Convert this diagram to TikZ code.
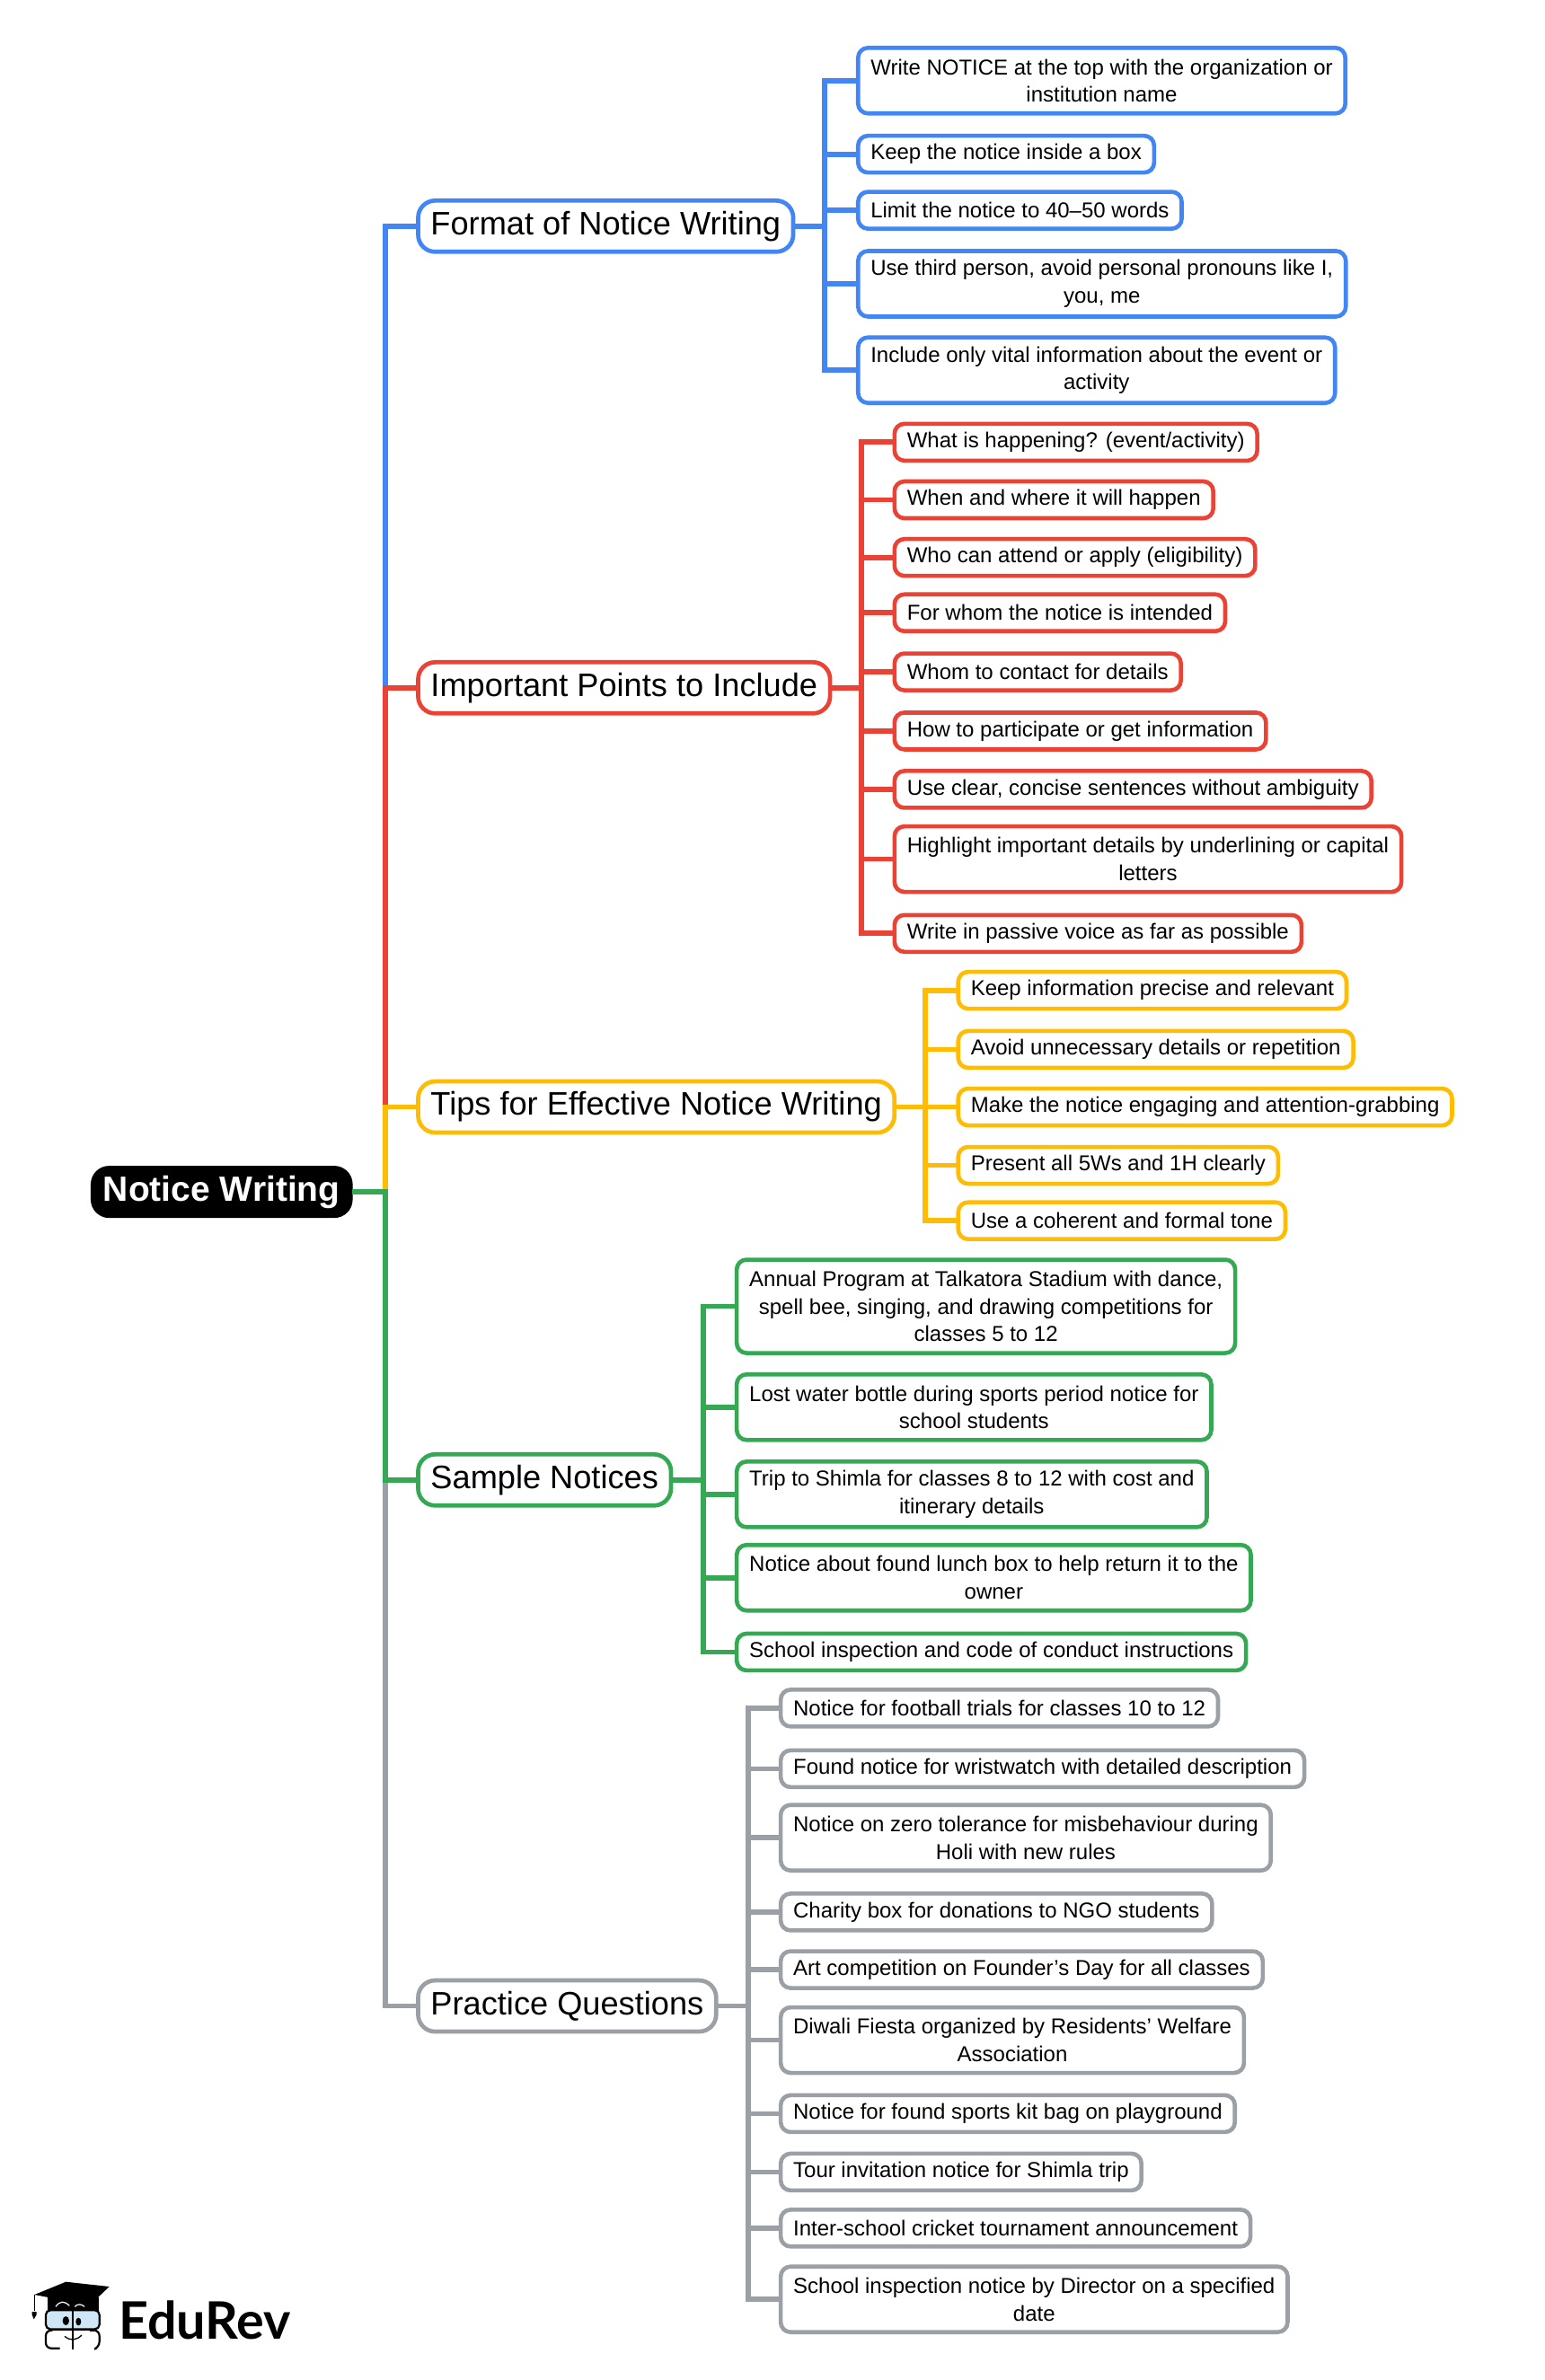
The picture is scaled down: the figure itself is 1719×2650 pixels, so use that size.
\documentclass[tikz,border=0pt]{standalone}
\usepackage{fontspec}
\setmainfont{Liberation Sans}
\newfontfamily\logofont{Lato}
\definecolor{cblue}{HTML}{4285F4}
\definecolor{cred}{HTML}{EA4335}
\definecolor{cyel}{HTML}{FFBC05}
\definecolor{cgrn}{HTML}{34A853}
\definecolor{cgry}{HTML}{9AA0A6}
\definecolor{cglass}{HTML}{CFE6F6}
\tikzset{
  rootbox/.style={draw=black,fill=black,text=white,rounded corners=20pt,inner xsep=13.5pt,inner ysep=0pt,minimum height=57pt,anchor=west,outer sep=0pt,line width=1pt,font=\fontsize{39}{44}\selectfont\bfseries},
  topbox/.style={draw=#1,fill=white,text=black,rounded corners=19pt,line width=4.7pt,inner xsep=14pt,inner ysep=0pt,minimum height=57pt,anchor=west,outer sep=0pt,font=\fontsize{36.2}{44}\selectfont},
  leaf/.style={draw=#1,fill=white,text=black,rounded corners=11pt,line width=4.6pt,inner xsep=14pt,inner ysep=0pt,minimum height=41pt,anchor=west,outer sep=0pt,align=center,font=\fontsize{24}{30.6}\selectfont},
  two/.style={minimum height=73pt},
  three/.style={minimum height=104pt},
  link/.style={draw=#1,line width=5.8pt,line join=miter,line cap=butt},
}
\begin{document}
\begin{tikzpicture}[x=1.689pt,y=-1.688pt,shift={(1pt,-3.7pt)}]
\useasboundingbox (-1pt,3.7pt) rectangle (1718pt,-2646.3pt);
\fill[white] (-1pt,3.7pt) rectangle (1718pt,-2646.3pt);
% root and main branches
\node[rootbox] (root) at (59.5,784) {Notice Writing};
\node[topbox=cblue] (fmt) at (275,147) {Format of Notice Writing};
\node[topbox=cred] (imp) at (275,451.5) {Important Points to Include};
\node[topbox=cyel] (tip) at (275,728) {Tips for Effective Notice Writing};
\node[topbox=cgrn] (smp) at (275,974) {Sample Notices};
\node[topbox=cgry] (prq) at (275,1321) {Practice Questions};
% format
\node[leaf=cblue,two] (f1) at (565,51) {Write NOTICE at the top with the organization or\\institution name};
\node[leaf=cblue] (f2) at (565,99.5) {Keep the notice inside a box};
\node[leaf=cblue] (f3) at (565,136.5) {Limit the notice to 40–50 words};
\node[leaf=cblue,two] (f4) at (565,185) {Use third person, avoid personal pronouns like I,\\you, me};
\node[leaf=cblue,two] (f5) at (565,242) {Include only vital information about the event or\\activity};
% important
\node[leaf=cred] (i1) at (589,289.5) {What is happening? (event/activity)};
\node[leaf=cred] (i2) at (589,327.5) {When and where it will happen};
\node[leaf=cred] (i3) at (589,365.5) {Who can attend or apply (eligibility)};
\node[leaf=cred] (i4) at (589,402) {For whom the notice is intended};
\node[leaf=cred] (i5) at (589,441) {Whom to contact for details};
\node[leaf=cred] (i6) at (589,480) {How to participate or get information};
\node[leaf=cred] (i7) at (589,518.5) {Use clear, concise sentences without ambiguity};
\node[leaf=cred,two] (i8) at (589,564.5) {Highlight important details by underlining or capital\\letters};
\node[leaf=cred] (i9) at (589,613.5) {Write in passive voice as far as possible};
% tips
\node[leaf=cyel] (t1) at (631,651) {Keep information precise and relevant};
\node[leaf=cyel] (t2) at (631,690) {Avoid unnecessary details or repetition};
\node[leaf=cyel] (t3) at (631,728) {Make the notice engaging and attention-grabbing};
\node[leaf=cyel] (t4) at (631,766.5) {Present all 5Ws and 1H clearly};
\node[leaf=cyel] (t5) at (631,803) {Use a coherent and formal tone};
% samples
\node[leaf=cgrn,three] (s1) at (485,859.5) {Annual Program at Talkatora Stadium with dance,\\spell bee, singing, and drawing competitions for\\classes 5 to 12};
\node[leaf=cgrn,two] (s2) at (485,926) {Lost water bottle during sports period notice for\\school students};
\node[leaf=cgrn,two] (s3) at (485,983.5) {Trip to Shimla for classes 8 to 12 with cost and\\itinerary details};
\node[leaf=cgrn,two] (s4) at (485,1038.5) {Notice about found lunch box to help return it to the\\owner};
\node[leaf=cgrn] (s5) at (485,1087.5) {School inspection and code of conduct instructions};
% practice
\node[leaf=cgry] (p1) at (514,1124.5) {Notice for football trials for classes 10 to 12};
\node[leaf=cgry] (p2) at (514,1164.5) {Found notice for wristwatch with detailed description};
\node[leaf=cgry,two] (p3) at (514,1210) {Notice on zero tolerance for misbehaviour during\\Holi with new rules};
\node[leaf=cgry] (p4) at (514,1259) {Charity box for donations to NGO students};
\node[leaf=cgry] (p5) at (514,1297) {Art competition on Founder’s Day for all classes};
\node[leaf=cgry,two] (p6) at (514,1343.5) {Diwali Fiesta organized by Residents’ Welfare\\Association};
\node[leaf=cgry] (p7) at (514,1392) {Notice for found sports kit bag on playground};
\node[leaf=cgry] (p8) at (514,1430.5) {Tour invitation notice for Shimla trip};
\node[leaf=cgry] (p9) at (514,1467.5) {Inter-school cricket tournament announcement};
\node[leaf=cgry,two] (p10) at (514,1514.5) {School inspection notice by Director on a specified\\date};
% connector junctions
\coordinate (tr) at (253.5,784);
\coordinate (bf) at (543,147);
\coordinate (bi) at (567,451.5);
\coordinate (bt) at (609,728);
\coordinate (bs) at (463,974);
\coordinate (bp) at (492.5,1321);
% trunk
\foreach \c/\n in {cblue/fmt,cred/imp,cyel/tip,cgry/prq,cgrn/smp}
  \draw[link=\c] (root.east) -- (tr) |- (\n.west);
% leaves
\foreach \n in {f1,f2,f3,f4,f5} \draw[link=cblue] (fmt.east) -- (bf) |- (\n.west);
\foreach \n in {i1,i2,i3,i4,i5,i6,i7,i8,i9} \draw[link=cred] (imp.east) -- (bi) |- (\n.west);
\foreach \n in {t1,t2,t3,t4,t5} \draw[link=cyel] (tip.east) -- (bt) |- (\n.west);
\foreach \n in {s1,s2,s3,s4,s5} \draw[link=cgrn] (smp.east) -- (bs) |- (\n.west);
\foreach \n in {p1,p2,p3,p4,p5,p6,p7,p8,p9,p10} \draw[link=cgry] (prq.east) -- (bp) |- (\n.west);
% logo
\begin{scope}[shift={(-1pt,-2446.3pt)},x=0.33333pt,y=-0.33333pt]
  \fill[black] (158,325) rectangle (330,372);
  \fill[black] (115,315) -- (220,272) -- (365,288) -- (300,350) -- cycle;
  \draw[white,line width=1.2pt] (186,355) .. controls (200,335) and (215,335) .. (232,352);
  \draw[white,line width=1.2pt] (250,355) .. controls (258,345) and (272,345) .. (282,355);
  \draw[black,line width=1.5pt] (115,315) -- (115,370);
  \fill[black] (107,372) -- (122,372) -- (122,382) -- (113,397) -- (107,382) -- cycle;
  \draw[black,line width=2.2pt,fill=cglass,rounded corners=5pt] (153,367) rectangle (332,430);
  \draw[black,line width=2.2pt,rounded corners=6pt] (200,494) -- (153,494) -- (153,434) -- (175,434);
  \draw[black,line width=2.2pt,rounded corners=6pt] (322,494) -- (332,490) -- (332,434) -- (300,434);
  \draw[black,line width=2.2pt] (175,432) -- (310,432);
  \draw[black,line width=2.2pt] (243,365) -- (243,497);
  \fill[black] (220,402) ellipse [x radius=11,y radius=15];
  \fill[black] (262,405) ellipse [x radius=9,y radius=13];
  \draw[black,line width=1.3pt] (216,454) .. controls (235,470) and (255,468) .. (273,450);
  \node[anchor=base west,inner sep=0pt,font=\logofont\bfseries\fontsize{57.5}{60}\selectfont,text=black] (logo) at (396,462) {EduRev};
\end{scope}
\end{tikzpicture}
\end{document}
